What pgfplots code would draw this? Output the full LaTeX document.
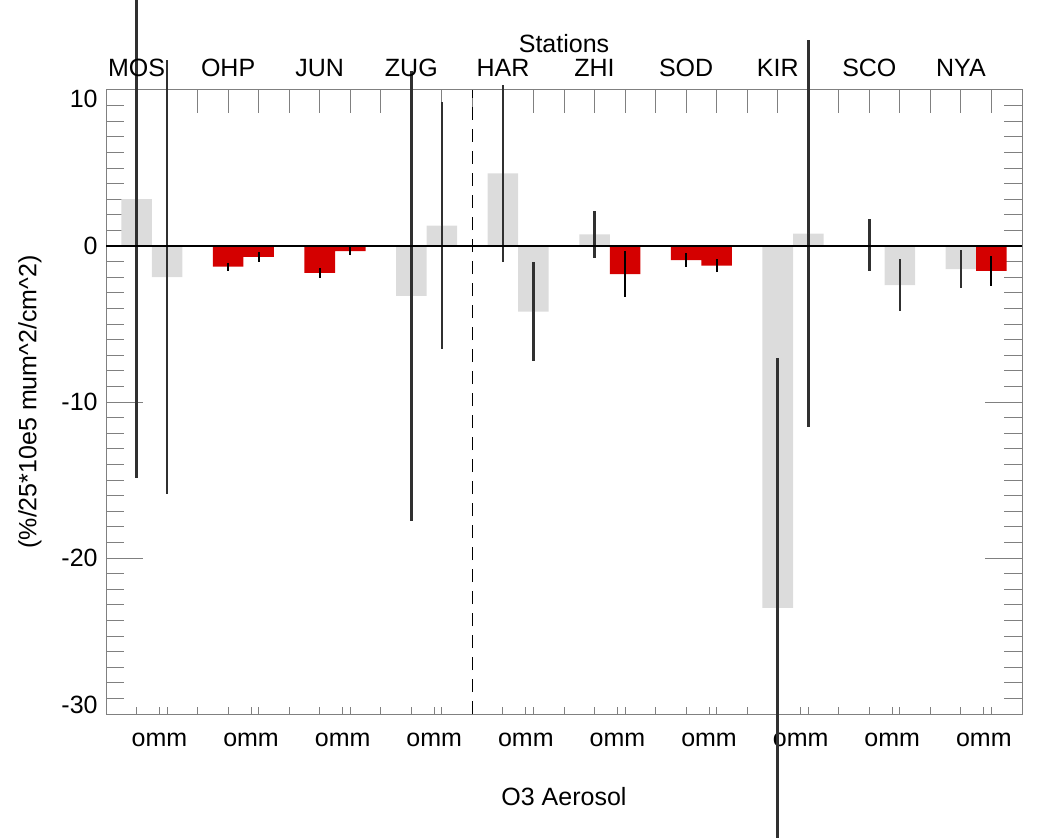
\documentclass[border=0pt]{standalone}
\usepackage{fontspec}
\setmainfont{Liberation Sans}
\usepackage{pgfplots}
\pgfplotsset{compat=1.18}

\definecolor{barred}{RGB}{212,0,0}
\definecolor{bargrey}{RGB}{220,220,220}
\definecolor{errdark}{RGB}{48,48,48}
\definecolor{framegrey}{RGB}{128,128,128}

\begin{document}
\fontsize{12.5}{15}\selectfont
\begin{tikzpicture}
\clip (0,0) rectangle (519pt,418.5pt);
\pgfplotsset{
  stationframe/.style={
    at={(53pt,61.5pt)}, anchor=south west,
    width=458pt, height=312pt, scale only axis,
    xmin=0, xmax=30, ymin=-30, ymax=10,
    clip=false,
  }
}
% long x ticks along the top edge
\begin{axis}[stationframe,
  axis line style={draw=none},
  xtick={1,...,29}, xticklabels={}, xtick pos=right,
  xtick style={framegrey, line width=0.5pt, /pgfplots/major tick length=11.5pt},
  ytick=\empty,
]
\end{axis}

\begin{axis}[stationframe,
  axis line style={framegrey, line width=0.5pt},
  xtick={1,...,29}, xticklabels={}, xtick pos=left,
  xtick style={framegrey, line width=0.5pt, /pgfplots/major tick length=3.5pt},
  extra x ticks={1.75,4.75,7.75,10.75,13.75,16.75,19.75,22.75,25.75,28.75},
  extra x tick labels={omm,omm,omm,omm,omm,omm,omm,omm,omm,omm},
  extra x tick style={major tick length=0pt},
  xticklabel style={anchor=north, inner sep=0pt, yshift=-9.5pt},
  ytick={-30,-20,-10,0,10}, yticklabels={{},-20,-10,0,{}},
  minor y tick num=9, ytick pos=both,
  ytick style={framegrey, line width=0.5pt, /pgfplots/major tick length=18.5pt, /pgfplots/minor tick length=9pt},
  yticklabel style={anchor=east, inner sep=0pt, xshift=-4pt},
  bar width=1,
]
% O3 series (grey)
\addplot[ybar, bar shift=0pt, fill=bargrey, draw=none,
  error bars/.cd, y dir=both, y explicit, error mark=none,
  error bar style={draw=errdark, line width=1.3pt}]
coordinates {
  (1,3.0)    +- (0,17.9)
  (2,-2.0)   +- (0,13.9)
  (10,-3.2)  +- (0,14.4)
  (11,1.3)   +- (0,7.9)
  (13,4.65)  +- (0,5.7)
  (14,-4.2)  +- (0,3.2)
  (16,0.75)  +- (0,1.5)
  (22,-23.2) +- (0,16.0)
  (23,0.8)   +- (0,12.4)
  (25,0.05)  +- (0,1.65)
  (26,-2.5)  +- (0,1.64)
  (28,-1.48) +- (0,1.2)
};
% significant values (red)
\addplot[ybar, bar shift=0pt, fill=barred, draw=none,
  error bars/.cd, y dir=both, y explicit, error mark=none,
  error bar style={draw=black, line width=1pt}]
coordinates {
  (4,-1.33)  +- (0,0.27)
  (5,-0.7)   +- (0,0.3)
  (7,-1.72)  +- (0,0.3)
  (8,-0.33)  +- (0,0.27)
  (17,-1.8)  +- (0,1.45)
  (19,-0.9)  +- (0,0.44)
  (20,-1.25) +- (0,0.43)
  (29,-1.6)  +- (0,0.96)
};
% zero line and separator
\addplot[black, line width=0.75pt] coordinates {(0,0) (30,0)};
\addplot[black, line width=0.6pt, dash pattern=on 6.5pt off 4.5pt] coordinates {(12,-30) (12,10)};

% end tick labels kept inside the frame
\node[anchor=north east, inner sep=0pt] at ([xshift=-4pt]rel axis cs:0,1) {10};
\node[anchor=south east, inner sep=0pt] at ([xshift=-4pt]rel axis cs:0,0) {-30};

% station names
\node[anchor=base] at ([yshift=6.5pt]axis cs:1,10) {MOS};
\node[anchor=base] at ([yshift=6.5pt]axis cs:4,10) {OHP};
\node[anchor=base] at ([yshift=6.5pt]axis cs:7,10) {JUN};
\node[anchor=base] at ([yshift=6.5pt]axis cs:10,10) {ZUG};
\node[anchor=base] at ([yshift=6.5pt]axis cs:13,10) {HAR};
\node[anchor=base] at ([yshift=6.5pt]axis cs:16,10) {ZHI};
\node[anchor=base] at ([yshift=6.5pt]axis cs:19,10) {SOD};
\node[anchor=base] at ([yshift=6.5pt]axis cs:22,10) {KIR};
\node[anchor=base] at ([yshift=6.5pt]axis cs:25,10) {SCO};
\node[anchor=base] at ([yshift=6.5pt]axis cs:28,10) {NYA};

\node[anchor=base] at ([yshift=18.5pt]rel axis cs:0.5,1) {Stations};
\node[anchor=base] at ([yshift=-45.5pt]rel axis cs:0.5,0) {O3 Aerosol};
\node[rotate=90, anchor=center] at ([xshift=-38pt]rel axis cs:0,0.5)
  {(\%/25*10e5 mum\textasciicircum 2/cm\textasciicircum 2)};
\end{axis}
\end{tikzpicture}
\end{document}
